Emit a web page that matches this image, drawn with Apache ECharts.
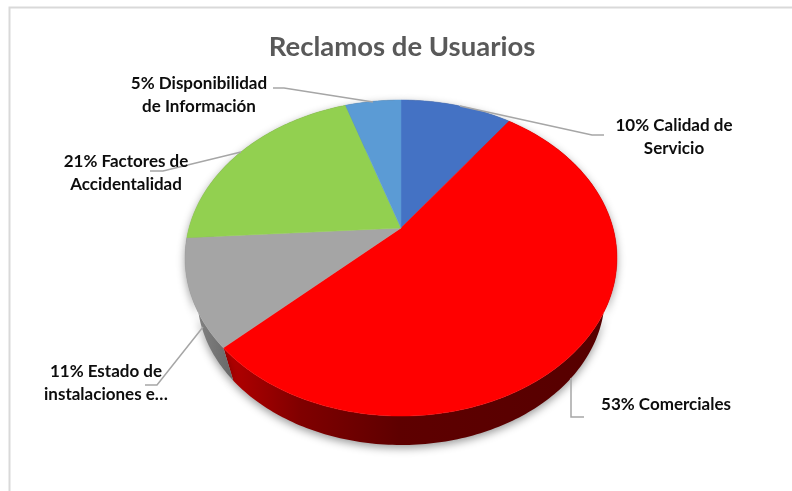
<!DOCTYPE html>
<html>
<head>
<meta charset="utf-8">
<style>
    html, body { margin: 0; padding: 0; background: #fff; }
    #pie3d { width: 792px; height: 491px; }
</style>
<script src="https://cdn.jsdelivr.net/npm/echarts@6/dist/echarts.min.js"></script>
</head>
<body>
<div id="pie3d"></div>
<script>
// datos
var categories = ['Calidad de Servicio', 'Comerciales', 'Estado de instalaciones e...', 'Factores de Accidentalidad', 'Disponibilidad de Información'];
var values = [10, 53, 11, 21, 5];
var labels = ['10% Calidad de\nServicio', '53% Comerciales', '11% Estado de\ninstalaciones e…', '21% Factores de\nAccidentalidad', '5% Disponibilidad\nde Información'];

// estilos
var topColors = ['#4472c4', '#ff0000', '#a5a5a5', '#92d050', '#5b9bd5'];
var labelPos = [[674, 137.5], [666, 405], [106, 383.5], [126, 173.5], [199, 95.5]];
var leaderLines = [
    [[460, 106], [592, 135], [604, 135]],
    [[571, 378], [571, 417], [584, 417]],
    [[203, 327], [157, 385], [145, 385]],
    [[241, 152], [163, 171], [150, 171]],
    [[373, 102], [284, 88], [273, 88]]
];

// proyeccion en perspectiva del disco
var cx = 401, cy = 228, ax = 212, by = 152.3, persp = 0.19;
var wallScale = 0.944, wallDrop = 39.5;
var total = values.reduce(function (a, b) { return a + b; }, 0);

function project(theta) {
    var w = 1 + persp * Math.cos(theta);
    return [cx + ax * Math.sin(theta) / w, cy - by * Math.cos(theta) / w];
}
function projectLow(theta) {
    var p = project(theta);
    return [cx + (p[0] - cx) * wallScale, cy + wallDrop + (p[1] - cy) * wallScale];
}
function sliceAngles(i) {
    var start = 0;
    for (var j = 0; j < i; j++) start += values[j];
    return [start / total * Math.PI * 2, (start + values[i]) / total * Math.PI * 2];
}
function arcPoints(t0, t1, fn) {
    var pts = [];
    var n = Math.max(4, Math.ceil((t1 - t0) * 60));
    for (var s = 0; s <= n; s++) pts.push(fn(t0 + (t1 - t0) * s / n));
    return pts;
}

function wallFill(i) {
    if (i === 1) {
        return new echarts.graphic.LinearGradient(221, 0, 617, 0, [
            { offset: 0, color: '#b80000' },
            { offset: 0.2, color: '#800000' },
            { offset: 0.45, color: '#5e0000' },
            { offset: 1, color: '#560000' }
        ], true);
    }
    return new echarts.graphic.LinearGradient(185, 0, 235, 0, [
        { offset: 0, color: '#8a8a8a' },
        { offset: 1, color: '#666666' }
    ], true);
}

function renderWall(params) {
    var i = params.dataIndex;
    var ang = sliceAngles(i);
    var upper = arcPoints(ang[0], ang[1], project);
    var lower = arcPoints(ang[0], ang[1], projectLow).reverse();
    return {
        type: 'polygon',
        shape: { points: upper.concat(lower) },
        style: {
            fill: wallFill(i),
            shadowBlur: 9,
            shadowColor: 'rgba(0,0,0,0.4)',
            shadowOffsetY: 3
        }
    };
}

function renderTop(params) {
    var i = params.dataIndex;
    var ang = sliceAngles(i);
    var pts = [[cx, cy]].concat(arcPoints(ang[0], ang[1], project));
    return {
        type: 'polygon',
        shape: { points: pts },
        style: { fill: topColors[i], stroke: topColors[i], lineWidth: 0.5 }
    };
}

function renderLabel(params) {
    var i = params.dataIndex;
    return {
        type: 'group',
        children: [
            {
                type: 'polyline',
                shape: { points: leaderLines[i] },
                style: { fill: 'none', stroke: '#a6a6a6', lineWidth: 1.5 }
            },
            {
                type: 'text',
                x: labelPos[i][0],
                y: labelPos[i][1],
                style: {
                    text: labels[i],
                    fill: '#0d0d0d',
                    font: 'bold 17px Lato',
                    lineHeight: 23,
                    align: 'center',
                    verticalAlign: 'middle'
                }
            }
        ]
    };
}

var seriesData = values.map(function (v, i) {
    return { name: categories[i], value: v };
});

var option = {
    animation: false,
    backgroundColor: '#ffffff',
    title: {
        text: 'Reclamos de Usuarios',
        left: 397,
        top: 42,
        textAlign: 'center',
        textVerticalAlign: 'middle',
        textStyle: { color: '#595959', fontFamily: 'Lato', fontWeight: 'bold', fontSize: 27.5 }
    },
    graphic: [{
        type: 'polyline',
        silent: true,
        shape: { points: [[9.5, 491], [9.5, 7.5], [792, 7.5]] },
        style: { fill: 'none', stroke: '#d9d9d9', lineWidth: 2 }
    }],
    series: [
        { type: 'custom', name: 'Pared', coordinateSystem: 'none', silent: true, z: 1, renderItem: renderWall, data: seriesData },
        { type: 'custom', name: 'Reclamos de Usuarios', coordinateSystem: 'none', silent: true, z: 2, renderItem: renderTop, data: seriesData },
        { type: 'custom', name: 'Etiquetas', coordinateSystem: 'none', silent: true, z: 3, renderItem: renderLabel, data: seriesData }
    ]
};

var chart = echarts.init(document.querySelector('#pie3d'));
chart.setOption(option);

window.addEventListener('resize', function () {
    chart.resize();
});
</script>
</body>
</html>
